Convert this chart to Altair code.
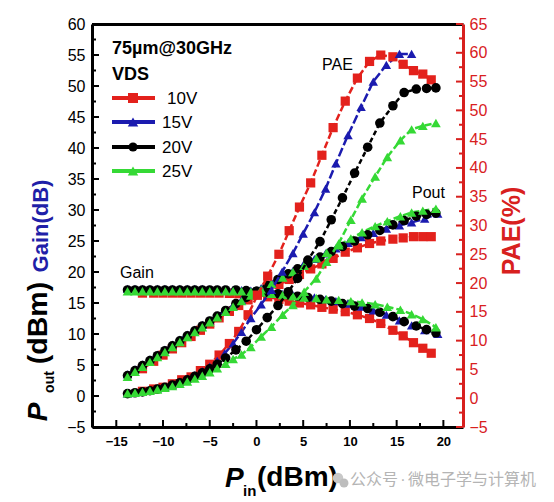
import altair as alt
import pandas as pd

FONT = "Liberation Sans"
CJK = "Noto Sans CJK SC"

series = ["10V", "15V", "20V", "25V"]
colors = ["#E3211C", "#1B1BAF", "#000000", "#35D935"]
shapes = ["square", "triangle-up", "circle", "triangle-up"]
sizes = [85, 95, 70, 95]
dashes = [[7, 3], [9, 3], [5, 3], [7, 3]]

x_ticks = [-15, -10, -5, 0, 5, 10, 15, 20]
x_minor = [-12.5, -7.5, -2.5, 2.5, 7.5, 12.5, 17.5]
left_ticks = [-5, 0, 5, 10, 15, 20, 25, 30, 35, 40, 45, 50, 55, 60]
left_minor = [-2.5, 2.5, 7.5, 12.5, 17.5, 22.5, 27.5, 32.5, 37.5, 42.5, 47.5, 52.5, 57.5]
right_ticks = [-5, 0, 5, 10, 15, 20, 25, 30, 35, 40, 45, 50, 55, 60, 65]
right_minor = [-2.5, 2.5, 7.5, 12.5, 17.5, 22.5, 27.5, 32.5, 37.5, 42.5, 47.5, 52.5, 57.5, 62.5]

# ---- 10V ----
pin_10 = [-12.2, -11.0, -10.0, -9.0, -8.0, -7.0, -6.0, -5.0, -4.0, -2.9, -1.9, -0.9, 0.1, 1.2, 2.4,
          3.5, 4.6, 5.8, 7.0, 8.2, 9.5, 10.8, 12.1, 13.3, 14.6, 15.7, 16.8, 17.8, 18.7]
pout_10 = [4.4, 5.6, 6.6, 7.6, 8.6, 9.6, 10.6, 11.6, 12.6, 13.65, 14.6, 15.5, 16.4, 17.2, 18.0,
           18.8, 19.6, 20.5, 21.3, 22.2, 23.2, 23.9, 24.6, 25.0, 25.3, 25.5, 25.7, 25.7, 25.7]
gain_10 = [16.6, 16.6, 16.6, 16.6, 16.6, 16.6, 16.6, 16.6, 16.6, 16.55, 16.5, 16.4, 16.3, 16.0, 15.6,
           15.3, 15.0, 14.7, 14.3, 14.0, 13.6, 13.1, 12.5, 11.7, 10.6, 9.7, 8.6, 7.7, 6.9]
pae_10 = [1.2, 1.6, 1.9, 2.5, 3.2, 3.7, 4.8, 5.9, 7.5, 9.5, 11.6, 14.5, 17.9, 21.2, 25.0,
          29.1, 33.2, 37.4, 42.2, 47.0, 51.6, 55.6, 58.5, 59.6, 59.3, 58.0, 56.9, 56.3, 55.3]

# ---- 15V ----
pin_15 = [-13.8, -13.0, -12.2, -11.4, -10.6, -9.8, -9.0, -8.2, -7.4, -6.6, -5.8, -5.0, -4.2, -3.4, -2.5,
          -1.6, -0.6, 0.5, 1.6, 2.75, 3.9, 5.0, 6.2, 7.4, 8.5, 9.8, 11.2, 12.5, 13.9, 15.3, 16.6, 18.0, 19.4]
pout_15 = [3.5, 4.3, 5.1, 5.9, 6.7, 7.5, 8.3, 9.1, 9.9, 10.7, 11.5, 12.2, 13.0, 13.8, 14.6,
           15.5, 16.4, 17.4, 18.3, 19.3, 20.2, 21.1, 22.1, 23.0, 23.8, 24.7, 25.6, 26.3, 27.0, 27.5, 28.0, 28.6, 29.4]
gain_15 = [17.3, 17.3, 17.3, 17.3, 17.3, 17.3, 17.3, 17.3, 17.3, 17.3, 17.3, 17.2, 17.2, 17.2, 17.1,
           17.1, 17.0, 16.9, 16.7, 16.5, 16.3, 16.1, 15.9, 15.6, 15.3, 14.9, 14.4, 13.8, 13.1, 12.2, 11.4, 10.6, 10.0]
pae_15 = [0.85, 1.0, 1.2, 1.4, 1.7, 2.0, 2.4, 2.9, 3.4, 4.0, 4.7, 5.5, 6.5, 7.8, 9.5,
          11.5, 13.9, 16.3, 18.8, 22.0, 25.2, 28.6, 32.3, 36.4, 40.8, 45.7, 50.6, 55.0, 57.9, 59.8, 59.8, None, None]

# ---- 20V ----
pin_20 = [-13.8, -13.0, -12.2, -11.4, -10.6, -9.8, -9.0, -8.2, -7.4, -6.6, -5.8, -5.0, -4.2, -3.3, -2.2,
          -1.1, 0.0, 1.15, 2.3, 3.4, 4.4, 5.5, 6.8, 8.0, 9.2, 10.5, 11.9, 13.2, 14.6, 15.8, 17.1, 18.2, 19.2]
pout_20 = [3.3, 4.1, 4.9, 5.7, 6.5, 7.3, 8.1, 8.9, 9.7, 10.5, 11.3, 12.1, 12.9, 13.8, 14.9,
           15.9, 16.9, 17.85, 18.8, 19.7, 20.5, 21.4, 22.4, 23.3, 24.1, 25.0, 26.0, 26.7, 27.6, 28.3, 29.0, 29.3, 29.5]
gain_20 = [17.1, 17.1, 17.1, 17.1, 17.1, 17.1, 17.1, 17.1, 17.1, 17.1, 17.1, 17.1, 17.1, 17.1, 17.1,
           17.0, 16.9, 16.7, 16.5, 16.3, 16.1, 15.9, 15.6, 15.3, 14.9, 14.5, 14.1, 13.5, 12.8, 12.0, 11.3, 10.7, 10.2]
pae_20 = [0.8, 0.95, 1.1, 1.3, 1.6, 1.9, 2.3, 2.7, 3.2, 3.8, 4.4, 5.1, 5.9, 7.0, 8.4,
          9.9, 11.9, 14.0, 16.1, 18.5, 20.8, 24.0, 27.2, 31.0, 34.8, 39.1, 43.6, 47.8, 50.8, 53.1, 53.7, 53.8, 53.9]

# ---- 25V ----
pin_25 = [-13.8, -13.0, -12.2, -11.4, -10.6, -9.8, -9.0, -8.2, -7.4, -6.6, -5.8, -5.0, -4.2, -3.3, -2.5,
          -1.6, -0.6, 0.5, 1.6, 2.8, 3.9, 5.1, 6.4, 7.5, 8.8, 10.1, 11.3, 12.7, 14.0, 15.4, 16.6, 17.8, 19.2]
pout_25 = [3.1, 3.9, 4.7, 5.5, 6.3, 7.1, 7.9, 8.7, 9.5, 10.3, 11.1, 11.9, 12.7, 13.6, 14.4,
           15.3, 16.2, 17.2, 18.1, 19.1, 20.0, 21.0, 22.2, 23.1, 24.3, 25.4, 26.4, 27.4, 28.2, 29.0, 29.6, 29.9, 30.2]
gain_25 = [16.9, 16.9, 16.9, 16.9, 16.9, 16.9, 16.9, 16.9, 16.9, 16.9, 16.9, 16.9, 16.9, 16.9, 16.9,
           16.9, 16.8, 16.7, 16.5, 16.3, 16.1, 15.9, 15.8, 15.6, 15.5, 15.3, 15.1, 14.8, 14.4, 13.9, 13.2, 12.4, 11.1]
pae_25 = [0.85, 0.95, 1.1, 1.3, 1.5, 1.8, 2.1, 2.5, 2.9, 3.4, 3.9, 4.5, 5.2, 6.0, 6.8,
          7.6, 8.9, 10.7, 12.4, 14.5, 16.2, 18.5, 20.8, 23.7, 26.9, 31.0, 34.7, 38.5, 41.9, 44.8, 46.7, 47.3, 47.8]

all_series = [
    ("10V", pin_10, pout_10, gain_10, pae_10),
    ("15V", pin_15, pout_15, gain_15, pae_15),
    ("20V", pin_20, pout_20, gain_20, pae_20),
    ("25V", pin_25, pout_25, gain_25, pae_25),
]

left_rows, right_rows = [], []
for s, pin, pout, gain, pae in all_series:
    for p, v in zip(pin, pout):
        left_rows.append({"series": s, "metric": "Pout", "pin": p, "value": v})
    for p, v in zip(pin, gain):
        left_rows.append({"series": s, "metric": "Gain", "pin": p, "value": v})
    for p, v in zip(pin, pae):
        if v is not None:
            right_rows.append({"series": s, "metric": "PAE", "pin": p, "value": v})
left_df = pd.DataFrame(left_rows)
right_df = pd.DataFrame(right_rows)

W, H = 371, 403
RED = "#D8201E"
BLUE = "#1F1FA8"

xs = alt.Scale(domain=[-17.6, 22.1], nice=False, zero=False)
yl = alt.Scale(domain=[-5, 60], nice=False, zero=False)
yr = alt.Scale(domain=[-5, 65], nice=False, zero=False)
cscale = alt.Scale(domain=series, range=colors)
sscale = alt.Scale(domain=series, range=shapes)
zscale = alt.Scale(domain=series, range=sizes)
dscale = alt.Scale(domain=series, range=dashes)

ax_bottom = alt.Axis(orient="bottom", values=x_ticks, ticks=False, tickSize=0, domainColor="black",
                     domainWidth=3, labelFont=FONT, labelFontSize=13, labelFontWeight="bold",
                     labelColor="black", labelPadding=8, title=None, grid=False)
ax_top = alt.Axis(orient="top", labels=False, ticks=False, tickSize=0, domainColor="black",
                  domainWidth=3, title=None, grid=False)
ax_left = alt.Axis(orient="left", values=left_ticks, ticks=False, tickSize=0, domainColor="black",
                   domainWidth=3, labelFont=FONT, labelFontSize=16, labelColor="black",
                   labelPadding=7, title=None, grid=False)
ax_right = alt.Axis(orient="right", values=right_ticks, ticks=False, tickSize=0, domainColor=RED,
                    domainWidth=3, labelFont=FONT, labelFontSize=16, labelColor=RED,
                    labelPadding=6, title=None, grid=False)


def txt(text, x, y, size, weight="normal", style="normal", color="black", angle=0,
        align="left", baseline="middle", font=FONT):
    return alt.Chart(alt.Data(values=[{"t": text}])).mark_text(
        fontSize=size, fontWeight=weight, fontStyle=style, color=color, angle=angle,
        align=align, baseline=baseline, font=font
    ).encode(x=alt.value(x), y=alt.value(y), text="t:N")


# ---- left (Pout / Gain) ----
lines_l = alt.Chart(left_df).mark_line(strokeWidth=2.5).encode(
    x=alt.X("pin:Q", scale=xs, axis=ax_bottom),
    y=alt.Y("value:Q", scale=yl, axis=ax_left),
    color=alt.Color("series:N", scale=cscale, legend=None),
    strokeDash=alt.StrokeDash("series:N", scale=dscale, legend=None),
    detail="metric:N",
)
pts_l = alt.Chart(left_df).mark_point(filled=True, opacity=1).encode(
    x=alt.X("pin:Q", scale=xs, axis=ax_bottom),
    y=alt.Y("value:Q", scale=yl, axis=ax_left),
    color=alt.Color("series:N", scale=cscale, legend=None),
    shape=alt.Shape("series:N", scale=sscale, legend=None),
    size=alt.Size("series:O", scale=zscale, legend=None),
)
lt_major = alt.Chart(pd.DataFrame({"v": left_ticks})).mark_rule(color="black", strokeWidth=2).encode(
    y=alt.Y("v:Q", scale=yl, axis=ax_left), x=alt.value(0), x2=alt.value(7))
lt_minor = alt.Chart(pd.DataFrame({"v": left_minor})).mark_rule(color="black", strokeWidth=2).encode(
    y=alt.Y("v:Q", scale=yl, axis=ax_left), x=alt.value(0), x2=alt.value(4))
bt_major = alt.Chart(pd.DataFrame({"v": x_ticks})).mark_rule(color="black", strokeWidth=2).encode(
    x=alt.X("v:Q", scale=xs, axis=ax_bottom), y=alt.value(H), y2=alt.value(H - 7))
bt_minor = alt.Chart(pd.DataFrame({"v": x_minor})).mark_rule(color="black", strokeWidth=2).encode(
    x=alt.X("v:Q", scale=xs, axis=ax_bottom), y=alt.value(H), y2=alt.value(H - 4))

# legend (drawn by hand: line + marker + label)
legend_layers = []
leg_y = [74, 98, 123, 147]
leg_tx = [75, 70, 70, 70]
for i, s in enumerate(series):
    legend_layers.append(
        alt.Chart(alt.Data(values=[{}])).mark_rule(color=colors[i], strokeWidth=4).encode(
            x=alt.value(20), x2=alt.value(63), y=alt.value(leg_y[i])))
    legend_layers.append(
        alt.Chart(alt.Data(values=[{}])).mark_point(shape=shapes[i], filled=True, opacity=1,
                                                   color=colors[i], size=sizes[i] + 15).encode(
            x=alt.value(41), y=alt.value(leg_y[i])))
    legend_layers.append(txt(s, leg_tx[i], leg_y[i] + 1, 17))

texts = [
    txt("75µm@30GHz", 20, 25, 18, weight="bold"),
    txt("VDS", 20, 51, 18, weight="bold"),
    txt("PAE", 230, 41, 16),
    txt("Pout", 320, 169, 16),
    txt("Gain", 28, 249, 16),
    # left axis title
    txt("P", -45, 388, 28, weight="bold", style="italic", angle=270, align="center", baseline="alphabetic"),
    txt("out", -38, 358, 14, weight="bold", angle=270, align="center", baseline="alphabetic"),
    txt("(dBm)", -45, 299, 28.5, weight="bold", angle=270, align="center", baseline="alphabetic"),
    txt("Gain(dB)", -44, 202, 22, weight="bold", color=BLUE, angle=270, align="center", baseline="alphabetic"),
    # right axis title
    txt("PAE(%)", 428, 207, 25, weight="bold", color=RED, angle=270, align="center", baseline="alphabetic"),
    # x axis title
    txt("P", 133, 463, 28, weight="bold", style="italic", baseline="alphabetic"),
    txt("in", 151, 472, 15, weight="bold", baseline="alphabetic"),
    txt("(dBm)", 165, 462, 28, weight="bold", baseline="alphabetic"),
    # watermark
    txt("公众号", 258, 456, 16, color="#B4B4B4", font=CJK),
    txt("·", 311, 456, 16, color="#B4B4B4", align="center"),
    txt("微电子学与计算机", 316, 456, 16, color="#B4B4B4", font=CJK),
]
icon = [
    alt.Chart(alt.Data(values=[{}])).mark_point(shape="circle", filled=True, opacity=1,
                                               color="#C8C8C8", size=110).encode(
        x=alt.value(246), y=alt.value(454)),
    alt.Chart(alt.Data(values=[{}])).mark_point(shape="circle", filled=True, opacity=1,
                                               color="#BDBDBD", size=80).encode(
        x=alt.value(252), y=alt.value(459)),
]

left_group = alt.layer(lt_major, lt_minor, bt_major, bt_minor, lines_l, pts_l,
                       *legend_layers, *texts, *icon)

# ---- right (PAE) ----
lines_r = alt.Chart(right_df).mark_line(strokeWidth=2.5).encode(
    x=alt.X("pin:Q", scale=xs, axis=ax_top),
    y=alt.Y("value:Q", scale=yr, axis=ax_right),
    color=alt.Color("series:N", scale=cscale, legend=None),
    strokeDash=alt.StrokeDash("series:N", scale=dscale, legend=None),
)
pts_r = alt.Chart(right_df).mark_point(filled=True, opacity=1).encode(
    x=alt.X("pin:Q", scale=xs, axis=ax_top),
    y=alt.Y("value:Q", scale=yr, axis=ax_right),
    color=alt.Color("series:N", scale=cscale, legend=None),
    shape=alt.Shape("series:N", scale=sscale, legend=None),
    size=alt.Size("series:O", scale=zscale, legend=None),
)
rt_major = alt.Chart(pd.DataFrame({"v": right_ticks})).mark_rule(color=RED, strokeWidth=2).encode(
    y=alt.Y("v:Q", scale=yr, axis=ax_right), x=alt.value(W), x2=alt.value(W - 7))
rt_minor = alt.Chart(pd.DataFrame({"v": right_minor})).mark_rule(color=RED, strokeWidth=2).encode(
    y=alt.Y("v:Q", scale=yr, axis=ax_right), x=alt.value(W), x2=alt.value(W - 4))

right_group = alt.layer(rt_major, rt_minor, lines_r, pts_r)

chart = alt.layer(left_group, right_group).resolve_scale(
    y="independent"
).resolve_axis(
    x="independent", y="independent"
).properties(
    width=W, height=H,
    autosize=alt.AutoSizeParams(type="none"),
    padding={"left": 84, "top": 16, "right": 83, "bottom": 72},
).configure_view(stroke=None).configure_axis(grid=False)

chart.save("out.html", embed_options={"renderer": "svg", "actions": False})
